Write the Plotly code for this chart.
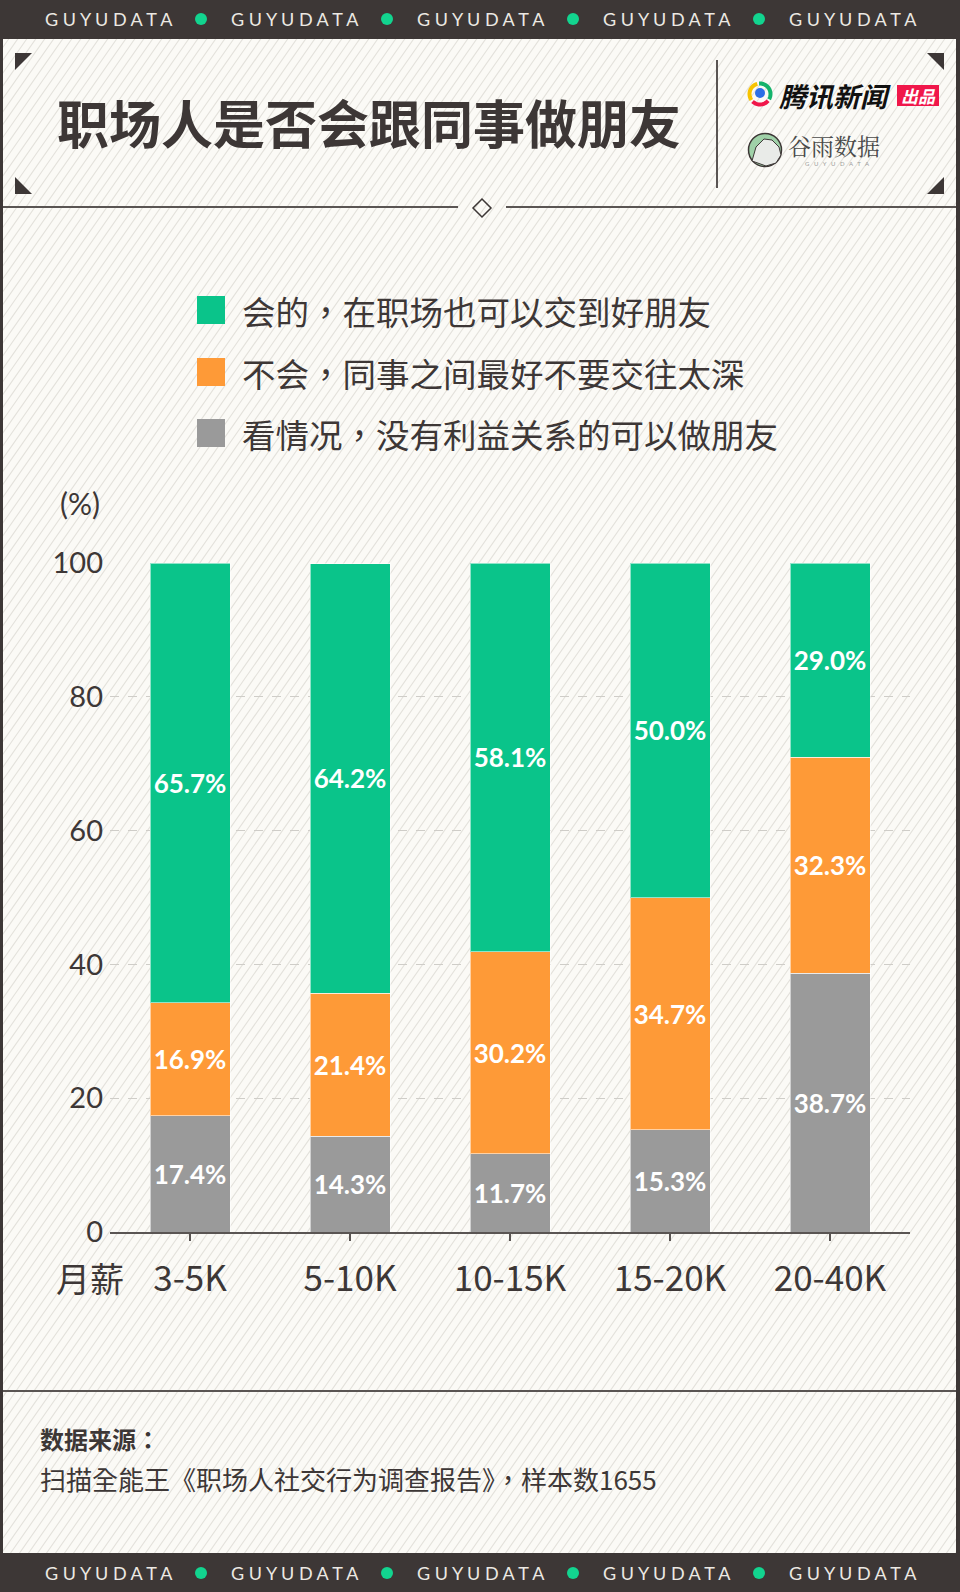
import plotly.graph_objects as go
import numpy as np

W, H = 960, 1592

# ---------------- data ----------------
categories = ["3-5K", "5-10K", "10-15K", "15-20K", "20-40K"]
name_green = "会的，在职场也可以交到好朋友"
name_orange = "不会，同事之间最好不要交往太深"
name_gray = "看情况，没有利益关系的可以做朋友"
green_vals = [65.7, 64.2, 58.1, 50.0, 29.0]
orange_vals = [16.9, 21.4, 30.2, 34.7, 32.3]
gray_vals = [17.4, 14.3, 11.7, 15.3, 38.7]
y_ticks = [0, 20, 40, 60, 80, 100]

title_text = "职场人是否会跟同事做朋友"
unit_text = "(%)"
xlab_text = "月薪"
source_head = "数据来源："
source_body = "扫描全能王《职场人社交行为调查报告》，样本数1655"
brand = "G U Y U D A T A"

# ---------------- styles ----------------
DARK = "#3d3736"
GREEN = "#0ac48a"
ORANGE = "#fe9a37"
GRAY = "#9a9a9a"
BG = "#fbfaf6"
CJK = "Noto Sans CJK SC"
CJK_TC = "Noto Sans CJK TC"
NUM = "Lato"


def X(p):
    return p / W


def Y(p):
    return 1 - p / H


shapes = []
annotations = []


def rect(x0, y0, x1, y1, fill, line_color=None, line_width=0, layer="below"):
    shapes.append(dict(type="rect", xref="paper", yref="paper",
                       x0=X(x0), x1=X(x1), y0=Y(y1), y1=Y(y0),
                       fillcolor=fill, layer=layer,
                       line=dict(color=line_color or fill, width=line_width)))


def line(x0, y0, x1, y1, color=DARK, width=2, layer="below"):
    shapes.append(dict(type="line", xref="paper", yref="paper",
                       x0=X(x0), x1=X(x1), y0=Y(y0), y1=Y(y1),
                       layer=layer, line=dict(color=color, width=width)))


def poly(pts, fill, line_color=None, width=0, closed=True, layer="below"):
    d = "M " + " L ".join(f"{X(px):.5f},{Y(py):.5f}" for px, py in pts)
    if closed:
        d += " Z"
    shapes.append(dict(type="path", xref="paper", yref="paper", path=d,
                       fillcolor=fill, layer=layer,
                       line=dict(color=line_color or "rgba(0,0,0,0)", width=width)))


def arc(cx, cy, r, a0, a1, color, width):
    a = np.radians(np.linspace(a0, a1, 24))
    pts = [(cx + r * np.cos(t), cy - r * np.sin(t)) for t in a]
    d = "M " + " L ".join(f"{X(px):.5f},{Y(py):.5f}" for px, py in pts)
    shapes.append(dict(type="path", xref="paper", yref="paper", path=d,
                       layer="below", line=dict(color=color, width=width)))


def circle(cx, cy, r, fill, line_color=None, width=0):
    shapes.append(dict(type="circle", xref="paper", yref="paper",
                       x0=X(cx - r), x1=X(cx + r), y0=Y(cy + r), y1=Y(cy - r),
                       fillcolor=fill, layer="below",
                       line=dict(color=line_color or fill, width=width)))


def text(t, x, y, size, color=DARK, family=CJK, xanchor="left", bold=False, italic=False):
    annotations.append(dict(text=t, x=X(x), y=Y(y), xref="paper", yref="paper",
                            xanchor=xanchor, yanchor="middle", showarrow=False,
                            font=dict(size=size, color=color, family=family,
                                      weight="bold" if bold else "normal",
                                      style="italic" if italic else "normal")))


# ---------------- background ----------------
rect(0, 0, W, H, DARK)
rect(3, 39, 956, 1553, BG)

# diagonal stripes
cot = 1 / np.tan(np.radians(55))
segs = []
x0 = -H * cot
while x0 < W:
    segs.append(f"M {X(x0):.5f},{Y(H):.5f} L {X(x0 + H * cot):.5f},{Y(0):.5f}")
    x0 += 9
shapes.append(dict(type="path", xref="paper", yref="paper", path=" ".join(segs),
                   layer="below", line=dict(color="#e3e1db", width=1.1)))

# dark frame bars over stripes
rect(0, 0, W, 39, DARK)
rect(0, 1553, W, H, DARK)
rect(0, 0, 3, H, DARK)
rect(956, 0, W, H, DARK)

# brand strips
for cy in (19, 1573):
    for i in range(5):
        text(brand, 109 + 186 * i, cy, 18, color="#ece9e3", family=NUM, xanchor="center")
    for i in range(4):
        circle(201 + 186 * i, cy, 6, "#12d48f")

# header decorations
for pts in ([(15, 53), (32, 53), (15, 70)], [(15, 177), (15, 194), (32, 194)],
            [(927, 53), (944, 53), (944, 70)], [(944, 177), (944, 194), (927, 194)]):
    poly(pts, DARK)
line(3, 207, 458, 207, "#5a5553", 2)
line(506, 207, 956, 207, "#5a5553", 2)
poly([(482, 199), (491, 208), (482, 217), (473, 208)], "rgba(0,0,0,0)", DARK, 1.5)
line(717, 60, 717, 188, "#5a5553", 2)
line(3, 1391, 956, 1391, "#5a5553", 2)

text(title_text, 55, 122, 52, bold=True)

# Tencent news logo
arc(760, 94, 10.5, 105, 215, "#f7c300", 4)
arc(760, 94, 10.5, 225, 320, "#f0174a", 4)
arc(760, 94, 10.5, -30, 95, "#14b36b", 4)
circle(760, 93, 5, "#2c6fe6")
text("腾讯新闻", 777, 95, 27, color="#111111", bold=True, italic=True)
rect(897, 85, 939, 106, "#f0174a")
text("出品", 918, 95.5, 17, color="white", xanchor="center", bold=True, italic=True)

# Guyu logo
circle(765, 150, 16.5, "#9fd1a8", DARK, 1.5)
poly([(752, 161), (756, 147), (764, 139), (772, 140), (779, 147), (781, 155), (776, 163), (766, 166)],
     "#e9ebe8", DARK, 1)
text("谷雨数据", 786, 145, 23, color="#4a4a4a", family="Noto Serif CJK SC, Noto Sans CJK SC")
text("G   U   Y   U   D   A   T   A", 837, 164, 6, color="#9a9a9a", family=NUM, xanchor="center")

# ---------------- legend (manual) ----------------
for (nm, col), cy in zip([(name_green, GREEN), (name_orange, ORANGE), (name_gray, GRAY)],
                         [310, 372, 433]):
    rect(197, cy - 14, 225, cy + 14, col)
    text(nm, 240, cy, 33.5, family=CJK_TC)

text(unit_text, 80, 503, 30, xanchor="center", family=NUM)
text(xlab_text, 90, 1277, 34, xanchor="center")

text(source_head, 38, 1438, 24, bold=True, family=CJK_TC)
text(source_body, 38, 1478, 26, family=CJK_TC)

# ---------------- bars ----------------
fig = go.Figure()
for vals, col, nm in [(gray_vals, GRAY, name_gray), (orange_vals, ORANGE, name_orange),
                      (green_vals, GREEN, name_green)]:
    fig.add_trace(go.Bar(
        x=categories, y=vals, name=nm,
        marker=dict(color=col, line=dict(color="rgba(255,255,255,0.55)", width=1)),
        text=[f"{v:.1f}%" for v in vals], textposition="inside", insidetextanchor="middle",
        textangle=0, textfont=dict(color="white", size=26, family=NUM, weight="bold"),
        hoverinfo="skip", showlegend=False))

fig.update_layout(
    width=W, height=H, margin=dict(l=0, r=0, t=0, b=0, pad=0, autoexpand=False),
    paper_bgcolor=BG, plot_bgcolor="rgba(0,0,0,0)",
    barmode="stack", bargap=0.5, showlegend=False,
    uniformtext=dict(minsize=26, mode="show"),
    shapes=shapes, annotations=annotations,
    xaxis=dict(domain=[X(110), X(910)], type="category", showgrid=False, zeroline=False,
               automargin=False,
               showline=True, linecolor="#5a5553", linewidth=2,
               ticks="outside", ticklen=7, tickwidth=2, tickcolor="#5a5553",
               tickfont=dict(size=35, color=DARK, family=CJK), ticklabelstandoff=8,
               fixedrange=True),
    yaxis=dict(domain=[Y(1232), Y(563)], range=[0, 100], tickvals=y_ticks,
               automargin=False,
               showgrid=True, gridcolor="#cfcdc8", griddash="dash", gridwidth=1,
               zeroline=False, showline=False, ticks="",
               tickfont=dict(size=29, color=DARK, family=NUM), ticklabelstandoff=6,
               fixedrange=True),
)

fig.write_html("out.html")
